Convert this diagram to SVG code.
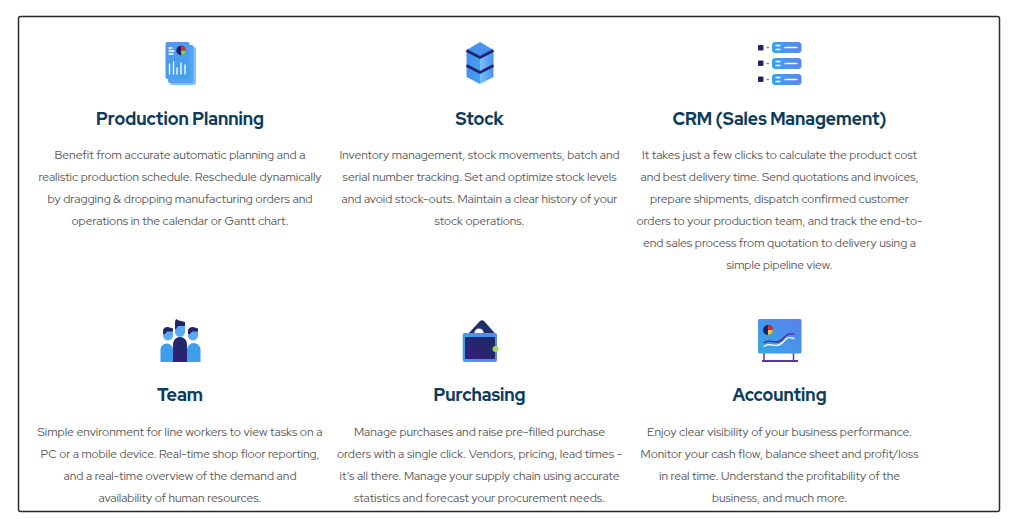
<svg xmlns="http://www.w3.org/2000/svg" width="1024" height="519" viewBox="0 0 1024 519">
<defs>
<linearGradient id="g1" x1="0" y1="0" x2="1" y2="1"><stop offset="0" stop-color="#5a94f0"/><stop offset="1" stop-color="#3da6ea"/></linearGradient>
<linearGradient id="g2" x1="0" y1="0" x2="1" y2="0"><stop offset="0" stop-color="#39a2ea"/><stop offset="1" stop-color="#5d86ee"/></linearGradient>
<linearGradient id="g3" x1="0" y1="0" x2="1" y2="0"><stop offset="0" stop-color="#7cc0fb"/><stop offset="1" stop-color="#4b8fee"/></linearGradient>
<linearGradient id="g5" x1="0" y1="0" x2="1" y2="0"><stop offset="0" stop-color="#4a8cee"/><stop offset="1" stop-color="#3fa5ec"/></linearGradient>
<linearGradient id="g4" x1="0" y1="1" x2="1" y2="0"><stop offset="0" stop-color="#36a8e4"/><stop offset="1" stop-color="#5a80ee"/></linearGradient>
<linearGradient id="d" x1="0" y1="1" x2="1" y2="0"><stop offset="0" stop-color="#3b1a80"/><stop offset="1" stop-color="#14305f"/></linearGradient>
</defs>
<style>
text{font-family:"Red Hat Display",Inter,"Liberation Sans",sans-serif}
.h{font-size:18px;font-weight:800;fill:#0b3c5d;text-anchor:middle}
.b{font-size:11.7px;fill:#5a5a5a;text-anchor:middle}
.w{stroke:#fff;stroke-width:1.300;fill:none;stroke-linecap:round}
.hair{fill:#1f2568}
.skin{fill:#5aa8f2}
.side{fill:#3f9eec}
</style>
<rect x="18.500" y="16.500" width="981" height="495" rx="2" fill="#fff" stroke="#2a2a2a" stroke-width="1.500"/>
<g id="production-planning">
<rect x="170" y="47" width="26" height="38" rx="2" fill="#7cc4fb"/>
<rect x="168" y="45" width="25.500" height="38" rx="2" fill="#5aa0f2"/>
<rect x="165.500" y="42" width="24" height="37" rx="2" fill="url(#g1)"/>
<path class="w" d="M169 48h3M169 51h5M169 54h4"/>
<circle cx="181" cy="50.500" r="4.700" fill="#1b2468"/>
<path d="M181 50.500V45.800a4.700 4.700 0 0 1 4.700 4.700z" fill="#e02a2a"/>
<path d="M181 50.500H185.700a4.700 4.700 0 0 1-4.200 4.700z" fill="#a3c94a"/>
<path class="w" d="M169.500 74v-10M173.500 74v-12M177 74v-6M181 74v-11M185 74v-9"/>
<text class="h" x="180" y="124.500" textLength="168" lengthAdjust="spacingAndGlyphs">Production Planning</text>
<text class="b" x="180" y="159" textLength="251" lengthAdjust="spacingAndGlyphs">Benefit from accurate automatic planning and a</text>
<text class="b" x="180" y="181" textLength="283" lengthAdjust="spacingAndGlyphs">realistic production schedule. Reschedule dynamically</text>
<text class="b" x="180" y="203" textLength="265" lengthAdjust="spacingAndGlyphs">by dragging &amp; dropping manufacturing orders and</text>
<text class="b" x="180" y="225" textLength="217" lengthAdjust="spacingAndGlyphs">operations in the calendar or Gantt chart.</text>
</g>
<g id="stock">
<path d="M480 42l13.500 8-13.500 7-13.500-7z" fill="#4a92ee"/>
<path d="M466.500 50l13.500 7v27l-13.500-7z" fill="url(#g5)"/>
<path d="M480 57l13.500-7v27l-13.500 7z" fill="url(#g3)"/>
<path d="M466.500 50.500l13.500 7 13.500-7" fill="none" stroke="#1f2568" stroke-width="2.600"/>
<path d="M466.500 65.500l13.500 7 13.500-7" fill="none" stroke="#1f2568" stroke-width="2.600"/>
<text class="h" x="479.500" y="124.500" textLength="48" lengthAdjust="spacingAndGlyphs">Stock</text>
<text class="b" x="479.500" y="159" textLength="280" lengthAdjust="spacingAndGlyphs">Inventory management, stock movements, batch and</text>
<text class="b" x="479.500" y="181" textLength="274" lengthAdjust="spacingAndGlyphs">serial number tracking. Set and optimize stock levels</text>
<text class="b" x="479.500" y="203" textLength="276" lengthAdjust="spacingAndGlyphs">and avoid stock-outs. Maintain a clear history of your</text>
<text class="b" x="479.500" y="225" textLength="90" lengthAdjust="spacingAndGlyphs">stock operations.</text>
</g>
<g id="crm">
<g id="crm-row-1"><rect x="758" y="45" width="5.500" height="5.500" rx="1" fill="#1f2568"/><path d="M766.500 47.500h2.500" stroke="#4a92ee" stroke-width="1.400"/><rect x="772" y="42" width="29.500" height="11" rx="3.500" fill="url(#g2)"/><path class="w" d="M776 45.500h4M776 49.500h4M785 47.500h12"/></g>
<g id="crm-row-2"><rect x="758" y="60.500" width="5.500" height="5.500" rx="1" fill="#1f2568"/><path d="M766.500 63.500h2.500" stroke="#4a92ee" stroke-width="1.400"/><rect x="772" y="58" width="29.500" height="11" rx="3.500" fill="url(#g2)"/><path class="w" d="M776 61.500h4M776 65.500h4M785 63.500h12"/></g>
<g id="crm-row-3"><rect x="758" y="76.500" width="5.500" height="5.500" rx="1" fill="#1f2568"/><path d="M766.500 79.500h2.500" stroke="#4a92ee" stroke-width="1.400"/><rect x="772" y="74" width="29.500" height="11" rx="3.500" fill="url(#g2)"/><path class="w" d="M776 77.500h4M776 81.500h4M785 79.500h12"/></g>
<text class="h" x="779.500" y="124.500" textLength="214" lengthAdjust="spacingAndGlyphs">CRM (Sales Management)</text>
<text class="b" x="779.500" y="159" textLength="275" lengthAdjust="spacingAndGlyphs">It takes just a few clicks to calculate the product cost</text>
<text class="b" x="779.500" y="181" textLength="278" lengthAdjust="spacingAndGlyphs">and best delivery time. Send quotations and invoices,</text>
<text class="b" x="779.500" y="203" textLength="259" lengthAdjust="spacingAndGlyphs">prepare shipments, dispatch confirmed customer</text>
<text class="b" x="779.500" y="225" textLength="286" lengthAdjust="spacingAndGlyphs">orders to your production team, and track the end-to-</text>
<text class="b" x="779.500" y="247" textLength="273" lengthAdjust="spacingAndGlyphs">end sales process from quotation to delivery using a</text>
<text class="b" x="779.500" y="269" textLength="106" lengthAdjust="spacingAndGlyphs">simple pipeline view.</text>
</g>
<g id="team">
<path class="side" d="M160.500 362v-13a6.300 6.300 0 0 1 12.500 0v13z"/>
<path class="side" d="M187 362v-13a6.800 6.800 0 0 1 13.500 0v13z"/>
<path class="skin" d="M163 330h10v5.500a5 5 0 0 1-10 0z"/>
<path class="skin" d="M188 330h10v5.500a5 5 0 0 1-10 0z"/>
<path class="hair" d="M163 334v-4a5 5 0 0 1 5-3l5 1.500v3l-6 0-2 2.500z"/>
<path class="hair" d="M188 334v-4a5 5 0 0 1 5-3l5 1.500v3l-6 0-2 2.500z"/>
<path d="M173 362v-18a7 7 0 0 1 14 0v18z" fill="url(#d)"/>
<path class="skin" d="M175 324h10v8a5 5 0 0 1-10 0z"/>
<path class="hair" d="M175 329v-7l1-3 3 1.500 6 1.500v4h-7l-2 3z"/>
<text class="h" x="180" y="401" textLength="46" lengthAdjust="spacingAndGlyphs">Team</text>
<text class="b" x="180" y="436" textLength="285" lengthAdjust="spacingAndGlyphs">Simple environment for line workers to view tasks on a</text>
<text class="b" x="180" y="458" textLength="279" lengthAdjust="spacingAndGlyphs">PC or a mobile device. Real-time shop floor reporting,</text>
<text class="b" x="180" y="480" textLength="233" lengthAdjust="spacingAndGlyphs">and a real-time overview of the demand and</text>
<text class="b" x="180" y="502" textLength="163" lengthAdjust="spacingAndGlyphs">availability of human resources.</text>
</g>
<g id="purchasing">
<path d="M468 334l11.500-12.500q2.500-2.500 5 0l11 12.500z" fill="#1f3068"/>
<circle cx="479" cy="334" r="4.500" fill="#fff"/>
<rect x="462.700" y="333" width="34.300" height="29" rx="2" fill="url(#g2)"/>
<rect x="465" y="337" width="30" height="22" rx="1" fill="url(#d)"/>
<path d="M474.500 333a4.500 4.500 0 0 1 9 0z" fill="#fff"/>
<circle cx="495.500" cy="349" r="3" fill="#a3d84c"/>
<text class="h" x="479.500" y="401" textLength="92" lengthAdjust="spacingAndGlyphs">Purchasing</text>
<text class="b" x="479.500" y="436" textLength="251" lengthAdjust="spacingAndGlyphs">Manage purchases and raise pre-filled purchase</text>
<text class="b" x="479.500" y="458" textLength="285" lengthAdjust="spacingAndGlyphs">orders with a single click. Vendors, pricing, lead times -</text>
<text class="b" x="479.500" y="480" textLength="280" lengthAdjust="spacingAndGlyphs">it’s all there. Manage your supply chain using accurate</text>
<text class="b" x="479.500" y="502" textLength="251" lengthAdjust="spacingAndGlyphs">statistics and forecast your procurement needs.</text>
</g>
<g id="accounting">
<path d="M764 353v8M793.500 353v8" stroke="#5a3a9a" stroke-width="1.500" fill="none"/>
<path d="M762 361h36" stroke="#5a3a9a" stroke-width="1.800"/>
<rect x="758" y="319" width="43.500" height="34.500" rx="1.500" fill="url(#g4)"/>
<circle cx="768" cy="330" r="5" fill="#1b2468"/>
<path d="M768 330v-5a5 5 0 0 1 5 5z" fill="#e02a2a"/>
<path d="M768 330h5a5 5 0 0 1-5 5z" fill="#d8c94a"/>
<path d="M763.500 343c5-4 9-1 12-1s6-1 9-5 6-3 10-3" fill="none" stroke="#4b2a96" stroke-width="1.300"/>
<path d="M763.500 346.500c5-4 9-1 12-1s6-1 9-5 6-3 10-2" fill="none" stroke="#fff" stroke-width="1.300"/>
<text class="h" x="779.500" y="401" textLength="94" lengthAdjust="spacingAndGlyphs">Accounting</text>
<text class="b" x="779.500" y="436" textLength="265" lengthAdjust="spacingAndGlyphs">Enjoy clear visibility of your business performance.</text>
<text class="b" x="779.500" y="458" textLength="278" lengthAdjust="spacingAndGlyphs">Monitor your cash flow, balance sheet and profit/loss</text>
<text class="b" x="779.500" y="480" textLength="241" lengthAdjust="spacingAndGlyphs">in real time. Understand the profitability of the</text>
<text class="b" x="779.500" y="502" textLength="135" lengthAdjust="spacingAndGlyphs">business, and much more.</text>
</g>
<g id="connectors"/>
</svg>
